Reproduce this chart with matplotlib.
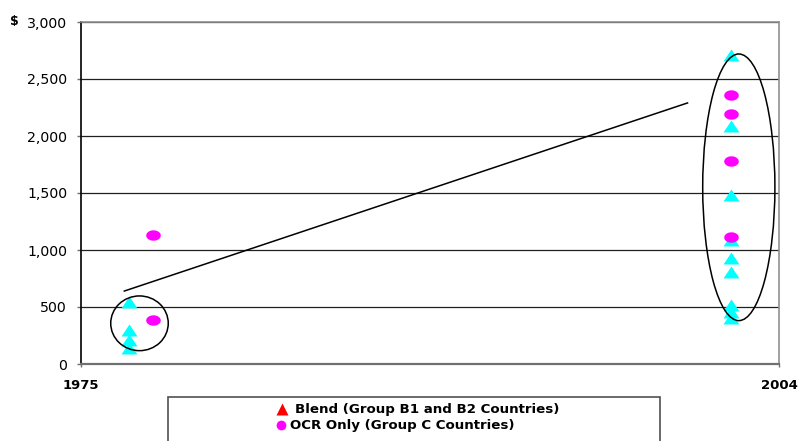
import numpy as np
import matplotlib.pyplot as plt
from matplotlib.path import Path
from matplotlib.patches import Ellipse, Rectangle
from matplotlib.lines import Line2D
from matplotlib.ticker import FuncFormatter

plt.rcParams["font.family"] = ["DejaVu Sans"]

# Blend (Group B1 and B2) observations
blend_years = [1977, 1977, 1977, 1977,
               2002, 2002, 2002, 2002, 2002, 2002, 2002, 2002, 2002]
blend_values = [544, 298, 210, 140,
                2711, 2088, 1482, 1088, 930, 807, 518, 456, 404]

# OCR only (Group C) observations
ocr_years = [1978, 1978, 2002, 2002, 2002, 2002]
ocr_values = [1130, 386, 2360, 2193, 1783, 1117]

# trend line end points
trend_years = [1976.8, 2000.2]
trend_values = [640, 2290]

# highlighted clusters: (year centre, value centre, width in years, height in $)
clusters = [(1977.43, 357, 2.39, 480),
            (2002.33, 1550, 3.0, 2339)]

legend_labels = ["Blend (Group B1 and B2 Countries)",
                 "OCR Only (Group C Countries)"]

# custom marker shapes: wide triangle and flat ellipse
tri = Path([(-1, -0.75), (1, -0.75), (0, 0.75), (-1, -0.75)],
           [Path.MOVETO, Path.LINETO, Path.LINETO, Path.CLOSEPOLY])
t = np.linspace(0, 2 * np.pi, 40)
oval = Path(np.column_stack([1.4 * np.cos(t), np.sin(t)]))

fig = plt.figure(figsize=(7.98, 4.41), dpi=100)
ax = fig.add_axes([81 / 798, 1 - 364 / 441, 698 / 798, 342 / 441])

ax.plot(trend_years, trend_values, color="black", lw=1.1, zorder=2)
ax.plot(blend_years, blend_values, ls="none", marker=tri, ms=11.5,
        color="#00FFFF", mec="none", zorder=3)
ax.plot(ocr_years, ocr_values, ls="none", marker=oval, ms=10.5,
        color="#FF00FF", mec="none", zorder=4)

for cx, cy, w, h in clusters:
    ax.add_patch(Ellipse((cx, cy), w, h, fill=False, ec="black",
                         lw=1.1, zorder=5))

ax.set_xlim(1975, 2004)
ax.set_ylim(0, 3000)
ax.set_yticks(np.arange(0, 3001, 500))
ax.yaxis.set_major_formatter(FuncFormatter(lambda v, p: f"{int(v):,}"))
ax.set_xticks([1975, 2004])
ax.set_xticklabels(["1975", "2004"], fontweight="bold", fontsize=9.5)
ax.tick_params(axis="y", length=3, width=1, pad=7, labelsize=10.2,
               color="#707070")
ax.tick_params(axis="x", length=2, width=1, pad=9, color="#707070")

ax.grid(axis="y", color="#202020", lw=0.9)
ax.set_axisbelow(True)
for side in ["top", "right"]:
    ax.spines[side].set_color("#909090")
    ax.spines[side].set_linewidth(1.2)
ax.spines["bottom"].set_color("#707070")
ax.spines["bottom"].set_linewidth(1.6)
ax.spines["left"].set_color("black")
ax.spines["left"].set_linewidth(1.2)

fig.text(10 / 798, 1 - 22 / 441, "$", fontweight="bold", fontsize=9,
         va="center", ha="left")

# legend box running past the bottom edge
fig.patches.append(Rectangle((168 / 798, -0.1), (660 - 168) / 798,
                             0.1 + (441 - 397) / 441,
                             transform=fig.transFigure, fill=False,
                             ec="#505050", lw=1.2))
fig.lines.append(Line2D([282 / 798], [1 - 409 / 441], transform=fig.transFigure,
                        marker="^", ms=9, color="red", mec="none"))
fig.lines.append(Line2D([281 / 798], [1 - 425 / 441], transform=fig.transFigure,
                        marker="o", ms=7, color="#FF00FF", mec="none"))
fig.text(295 / 798, 1 - 409 / 441, legend_labels[0], fontweight="bold",
         fontsize=9.6, va="center", ha="left")
fig.text(290 / 798, 1 - 425 / 441, legend_labels[1], fontweight="bold",
         fontsize=9.6, va="center", ha="left")

fig.savefig("out.png", dpi=100)
